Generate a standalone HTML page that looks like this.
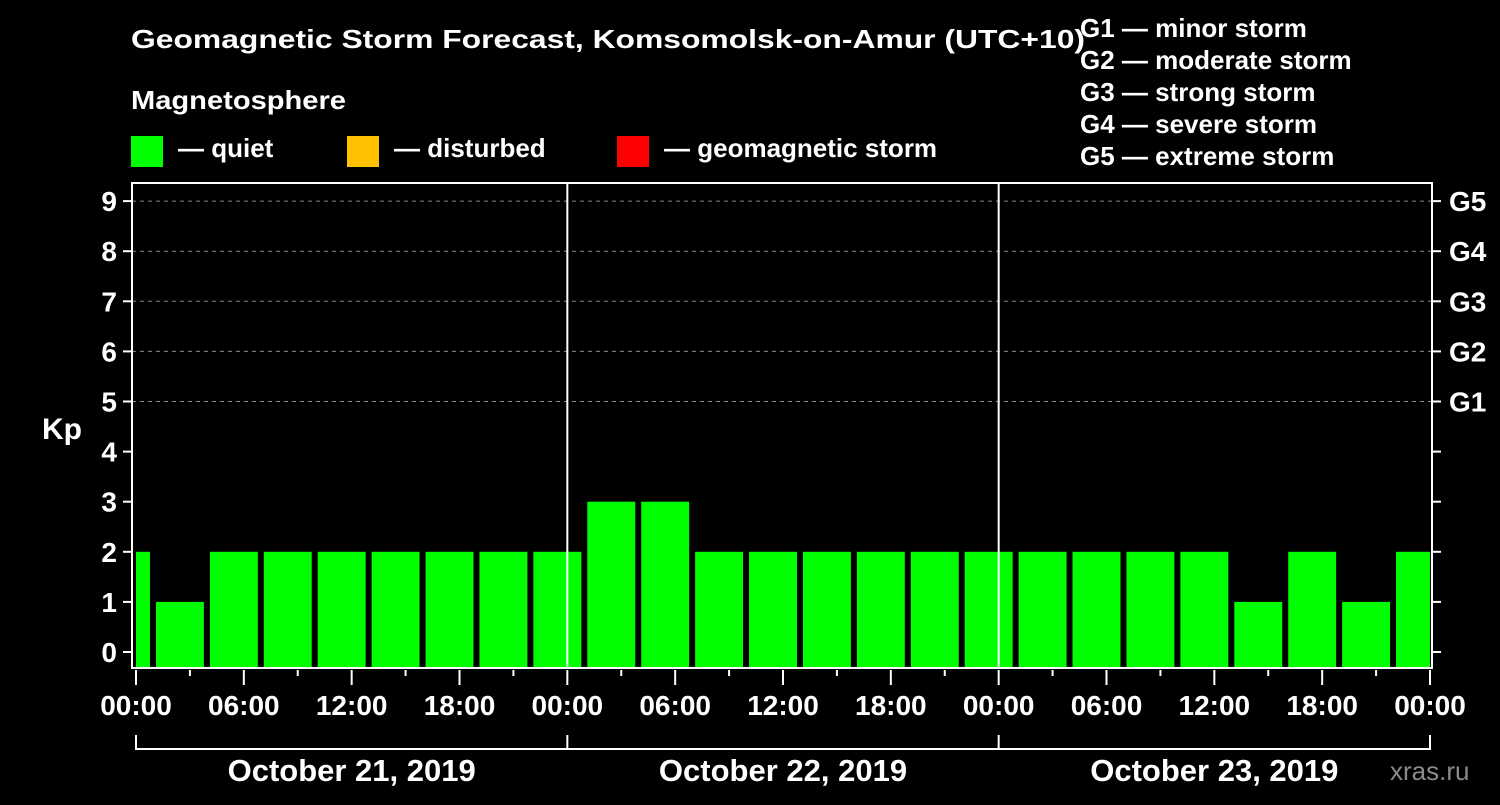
<!DOCTYPE html>
<html><head><meta charset="utf-8"><style>
body{margin:0;background:#000;width:1500px;height:800px;overflow:hidden}
svg text{font-family:"Liberation Sans",sans-serif;font-weight:bold;fill:#fff}
</style></head><body>
<svg id="c" width="1500" height="800" xmlns="http://www.w3.org/2000/svg">
<rect width="1500" height="800" fill="#000"/>
<text x="131" y="48" font-size="26" textLength="954" lengthAdjust="spacingAndGlyphs">Geomagnetic Storm Forecast, Komsomolsk-on-Amur (UTC+10)</text>
<text x="131" y="109" font-size="26" textLength="215" lengthAdjust="spacingAndGlyphs">Magnetosphere</text>
<g><rect x="131" y="136" width="32" height="31" fill="#00ff00"/><text x="178" y="157" font-size="26">— quiet</text></g>
<g><rect x="347" y="136" width="32" height="31" fill="#ffc000"/><text x="394" y="157" font-size="26">— disturbed</text></g>
<g><rect x="617" y="136" width="32" height="31" fill="#ff0000"/><text x="664" y="157" font-size="26">— geomagnetic storm</text></g>
<g font-size="26">
<text x="1080" y="37">G1 — minor storm</text>
<text x="1080" y="69">G2 — moderate storm</text>
<text x="1080" y="101">G3 — strong storm</text>
<text x="1080" y="133">G4 — severe storm</text>
<text x="1080" y="165">G5 — extreme storm</text>
</g>
<g id="grid"></g><g id="bars"></g><g id="axes"></g>
<text x="42" y="439" font-size="30">Kp</text>
<text x="1390" y="780" font-size="26" style="fill:#8a8a8a;font-weight:normal">xras.ru</text>
</svg>
<script>
const kpValues=[2,1,2,2,2,2,2,2,2,3,3,2,2,2,2,2,2,2,2,2,2,1,2,1,2];
const startHour=-2; // first interval start, hours from Oct 21 00:00 local
const dayLabels=["October 21, 2019","October 22, 2019","October 23, 2019"];
const yTicks=[0,1,2,3,4,5,6,7,8,9];
const gLabels=["G1","G2","G3","G4","G5"];
const NS="http://www.w3.org/2000/svg";
const X0=136,X1=1430,L=132,R=1432,T=183,B=668;
const xs=h=>X0+(X1-X0)*h/72;
const ys=v=>652-50.1*v;
function mk(tag,a,p){const e=document.createElementNS(NS,tag);for(const k in a)e.setAttribute(k,a[k]);p.appendChild(e);return e;}
const grid=document.getElementById('grid'),bars=document.getElementById('bars'),axes=document.getElementById('axes');
yTicks.forEach(v=>{if(v>=5){const l=mk('line',{x1:L,x2:R,y1:ys(v),y2:ys(v),stroke:'#888','stroke-dasharray':'4,4','stroke-width':1},grid);

}});
kpValues.forEach((v,i)=>{const h0=startHour+3*i;let a=xs(h0)+2,b=xs(h0+3)-4;a=Math.max(a,X0);b=Math.min(b,X1);
const col=v>=5?'#ff0000':(v>=4?'#ffc000':'#00ff00');
const r=mk('rect',{x:a,y:ys(v),width:b-a,height:B-ys(v),fill:col},bars);

});
mk('rect',{x:L,y:T,width:R-L,height:B-T,fill:'none',stroke:'#fff','stroke-width':2},axes);
[1,2].forEach(d=>{mk('line',{x1:xs(24*d),x2:xs(24*d),y1:T,y2:B,stroke:'#fff','stroke-width':2},axes);});
yTicks.forEach(v=>{mk('line',{x1:123,x2:L,y1:ys(v),y2:ys(v),stroke:'#fff','stroke-width':2},axes);
mk('line',{x1:R,x2:1441,y1:ys(v),y2:ys(v),stroke:'#fff','stroke-width':2},axes);
const t=mk('text',{x:117,y:ys(v)+10,'text-anchor':'end','font-size':28},axes);t.textContent=v;

});
gLabels.forEach((g,i)=>{const t=mk('text',{x:1449,y:ys(5+i)+10,'font-size':28},axes);t.textContent=g;

});
for(let h=0;h<=72;h+=3){const major=h%6===0;mk('line',{x1:xs(h),x2:xs(h),y1:B+2,y2:B+(major?17:8),stroke:'#fff','stroke-width':2},axes);
if(major){const hh=h%24;const t=mk('text',{x:xs(h),y:715,'text-anchor':'middle','font-size':28},axes);t.textContent=String(hh).padStart(2,'0')+':00';

}}
mk('polyline',{points:`${xs(0)},735 ${xs(0)},749 ${xs(72)},749 ${xs(72)},735`,fill:'none',stroke:'#fff','stroke-width':2},axes);
[1,2].forEach(d=>mk('line',{x1:xs(24*d),x2:xs(24*d),y1:735,y2:749,stroke:'#fff','stroke-width':2},axes));
dayLabels.forEach((s,i)=>{const t=mk('text',{x:xs(24*i+12),y:781,'text-anchor':'middle','font-size':31},axes);t.textContent=s;

});
</script>
</body></html>
